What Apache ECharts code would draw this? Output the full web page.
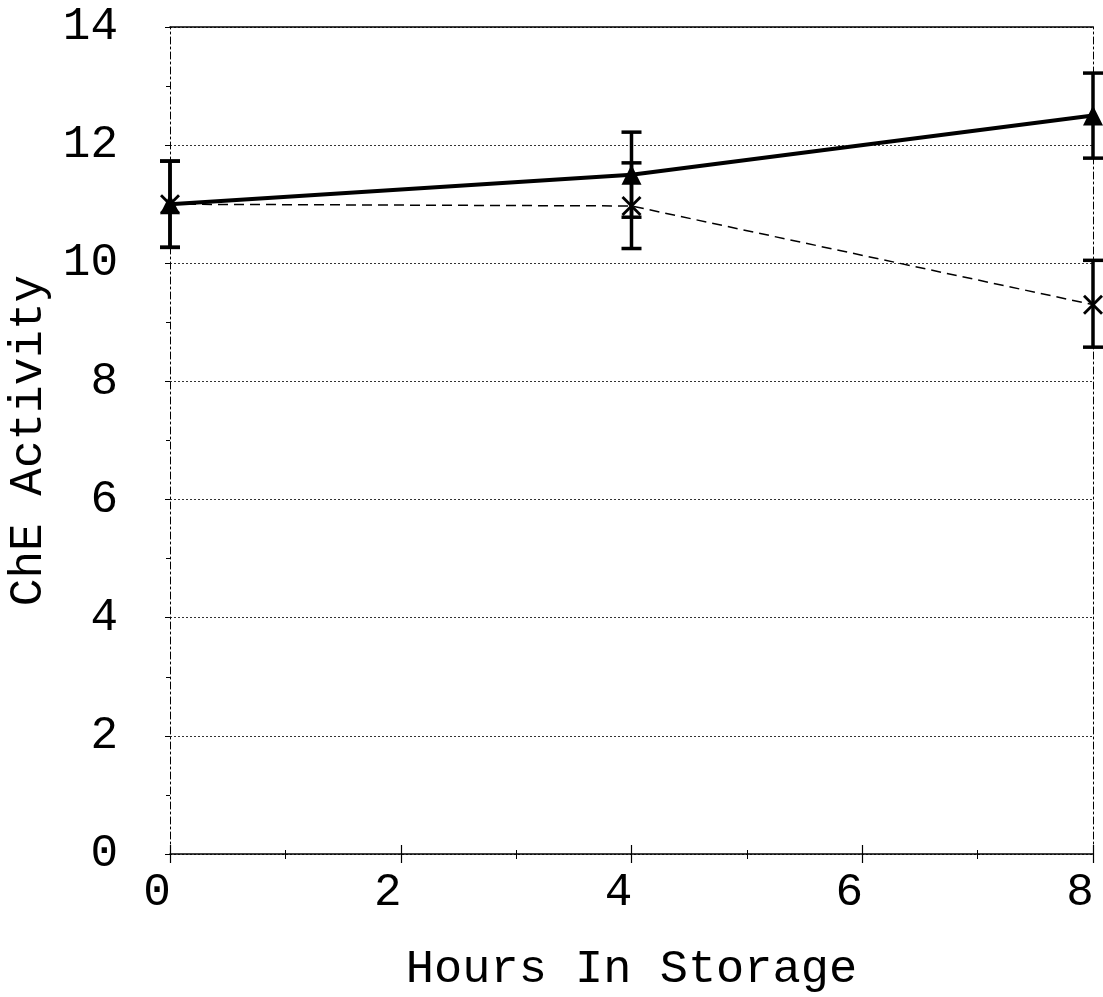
<!DOCTYPE html>
<html>
<head>
<meta charset="utf-8">
<script src="https://cdn.jsdelivr.net/npm/echarts@6/dist/echarts.min.js"></script>
<style>
  html, body { margin: 0; padding: 0; background: #fff; }
  #main { width: 1103px; height: 997px; }
</style>
</head>
<body>
<div id="main"></div>
<script>
// hours in storage
var hours = [0, 4, 8];
// ChE activity, solid line with triangles
var activityA = [11.0, 11.5, 12.5];
var errLowA = [10.27, 10.78, 11.78];
var errHighA = [11.73, 12.22, 13.22];
// ChE activity, dashed line with crosses
var activityB = [11.0, 10.97, 9.3];
var errLowB = [10.27, 10.25, 8.58];
var errHighB = [11.73, 11.7, 10.05];

var font = 'Liberation Mono';
var dashDot = [7, 3, 2, 3];

function pairs(xs, ys) {
    return xs.map(function (x, i) { return [x, ys[i]]; });
}
function errRows(xs, lo, hi) {
    return xs.map(function (x, i) { return [x, lo[i], hi[i]]; });
}

// error bar: vertical stroke with caps
function renderErr(params, api) {
    var x = api.value(0);
    var lo = api.coord([x, api.value(1)]);
    var hi = api.coord([x, api.value(2)]);
    var half = 10;
    var style = { stroke: '#000', lineWidth: 3.5 };
    return {
        type: 'group',
        children: [
            { type: 'line', shape: { x1: lo[0], y1: lo[1], x2: hi[0], y2: hi[1] }, style: style },
            { type: 'line', shape: { x1: lo[0] - half, y1: lo[1], x2: lo[0] + half, y2: lo[1] }, style: style },
            { type: 'line', shape: { x1: hi[0] - half, y1: hi[1], x2: hi[0] + half, y2: hi[1] }, style: style }
        ]
    };
}

var chart = echarts.init(document.getElementById('main'));
var option = {
    backgroundColor: '#fff',
    animation: false,
    grid: { left: 170, right: 10, top: 27, bottom: 143, outerBoundsMode: 'none', containLabel: false },
    xAxis: [
        {
            type: 'value', min: 0, max: 8, interval: 2,
            name: 'Hours In Storage', nameLocation: 'middle', nameGap: 92,
            nameTextStyle: { fontFamily: font, fontSize: 47, color: '#000' },
            axisLine: { onZero: false, lineStyle: { color: '#000', width: 1.5 } },
            axisTick: { show: true, length: 9, lineStyle: { color: '#000', width: 1.2 } },
            minorTick: { show: true, splitNumber: 2, length: 5, lineStyle: { color: '#000', width: 1 } },
            axisLabel: { fontFamily: font, fontSize: 46, color: '#000', margin: 16, padding: [0, 26, 0, 0] },
            splitLine: { show: false }
        },
        {
            type: 'value', min: 0, max: 8, interval: 2, position: 'bottom',
            axisLine: { show: false },
            axisTick: { show: true, inside: true, length: 9, lineStyle: { color: '#000', width: 1.2 } },
            minorTick: { show: true, splitNumber: 2, length: 4, lineStyle: { color: '#000', width: 1 } },
            axisLabel: { show: false },
            splitLine: { show: false }
        },
        {
            type: 'value', min: 0, max: 8, position: 'top',
            axisLine: { show: true, onZero: false, lineStyle: { color: '#000', width: 1.5 } },
            axisTick: { show: false }, axisLabel: { show: false }, splitLine: { show: false }
        }
    ],
    yAxis: [
        {
            type: 'value', min: 0, max: 14, interval: 2,
            name: 'ChE Activity', nameLocation: 'middle', nameGap: 114,
            nameTextStyle: { fontFamily: font, fontSize: 46, color: '#000' },
            axisLine: { show: true, onZero: false, lineStyle: { color: '#000', width: 1, type: dashDot } },
            axisTick: { show: true, length: 5, lineStyle: { color: '#000', width: 1 } },
            minorTick: { show: true, splitNumber: 2, length: 4, lineStyle: { color: '#000', width: 1 } },
            axisLabel: { fontFamily: font, fontSize: 46, color: '#000', margin: 52 },
            splitLine: { show: true, lineStyle: { color: '#333', width: 1, type: [2, 2] } }
        },
        {
            type: 'value', min: 0, max: 14, interval: 2, position: 'right',
            axisLine: { show: true, onZero: false, lineStyle: { color: '#000', width: 1, type: dashDot } },
            axisTick: { show: false }, axisLabel: { show: false }, splitLine: { show: false }
        }
    ],
    series: [
        {
            type: 'line',
            data: pairs(hours, activityB),
            lineStyle: { color: '#000', width: 1.5, type: [10, 6] },
            symbol: 'path://M0,1L1,0L5,4L9,0L10,1L6,5L10,9L9,10L5,6L1,10L0,9L4,5Z',
            symbolSize: 20,
            itemStyle: { color: '#000' },
            z: 3
        },
        {
            type: 'line',
            data: pairs(hours, activityA),
            lineStyle: { color: '#000', width: 4 },
            symbol: 'triangle',
            symbolSize: 20,
            itemStyle: { color: '#000' },
            z: 4
        },
        {
            type: 'custom',
            renderItem: renderErr,
            data: errRows(hours, errLowA, errHighA),
            encode: { x: 0, y: [1, 2] },
            clip: false,
            z: 5
        },
        {
            type: 'custom',
            renderItem: renderErr,
            data: errRows(hours, errLowB, errHighB),
            encode: { x: 0, y: [1, 2] },
            clip: false,
            z: 5
        }
    ]
};
option && chart.setOption(option);
</script>
</body>
</html>
